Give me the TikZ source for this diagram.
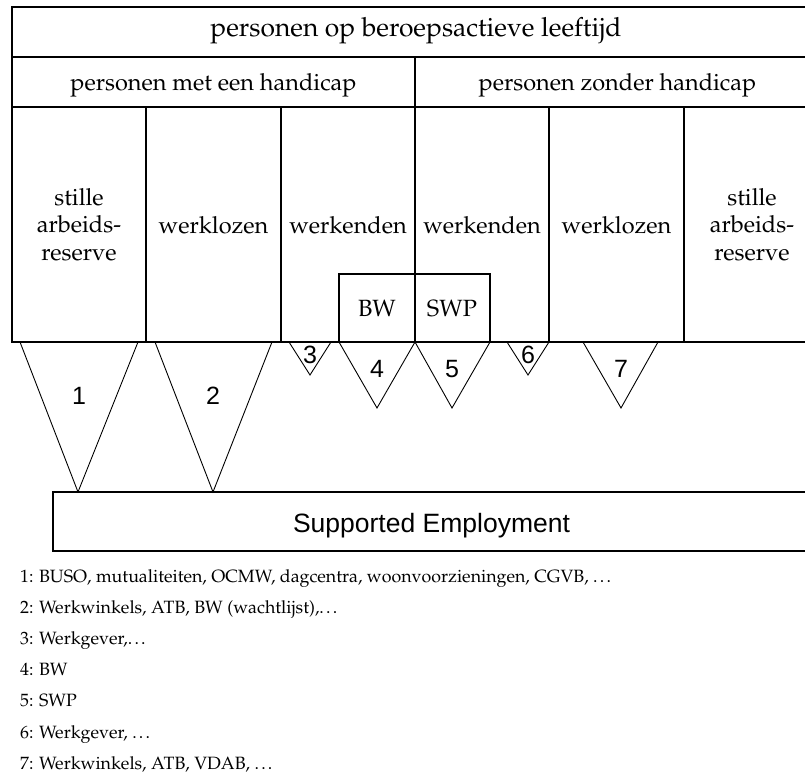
\documentclass[tikz,border=0pt]{standalone}
\usepackage[T1]{fontenc}
\usepackage{fontspec}
\newfontfamily\sansfnt{Liberation Sans}
\newcommand{\palfnt}{\fontencoding{T1}\fontfamily{ppl}\selectfont}
\newcommand{\elp}{.\kern.125em.\kern.125em.}
\begin{document}
\begin{tikzpicture}[x=1pt,y=-1pt,
  grid/.style={line width=1.6pt, line cap=rect},
  tri/.style={line width=0.9pt, line join=miter},
  titlef/.style={font=\palfnt\fontsize{26.4}{30}\selectfont, inner sep=0, anchor=base},
  hdr/.style={font=\palfnt\fontsize{23.5}{27.5}\selectfont, inner sep=0, anchor=base, align=center},
  num/.style={font=\sansfnt\fontsize{25}{28}\selectfont, inner sep=0, anchor=base},
  sef/.style={font=\sansfnt\fontsize{26.5}{30}\selectfont, inner sep=0, anchor=base},
  leg/.style={font=\palfnt\fontsize{17.8}{21}\selectfont, inner sep=0, anchor=base west}]
\useasboundingbox[fill=white] (0,0) rectangle (805,778);

% table
\draw[grid] (805,7) -- (12,7) -- (12,342) -- (805,342);
\draw[grid] (12,57) -- (805,57);
\draw[grid] (12,107) -- (805,107);
\draw[grid] (415,57) -- (415,342);
\foreach \xx in {146,281,549,684} \draw[grid] (\xx,107) -- (\xx,342);
\draw[grid] (339,342) -- (339,274) -- (490,274) -- (490,342);

% texts in table
\node[titlef] (title) at (416,37) {personen op beroepsactieve leeftijd};
\node[hdr] (met) at (213.5,91) {personen met een handicap};
\node[hdr] (zonder) at (617.5,91) {personen zonder handicap};
\node[hdr] (c1) at (79,260) {stille\\arbeids-\\reserve};
\node[hdr] (c2) at (213.5,233) {werklozen};
\node[hdr] (c3) at (348,233) {werkenden};
\node[hdr] (c4) at (482,233) {werkenden};
\node[hdr] (c5) at (616.5,233) {werklozen};
\node[hdr] (c6) at (752,260) {stille\\arbeids-\\reserve};
\node[hdr] (bw) at (377,316) {BW};
\node[hdr] (swp) at (452,316) {SWP};

% triangles
\draw[tri] (20,342) -- (78,492) -- (138,342);
\draw[tri] (155,342) -- (213,492) -- (272,342);
\draw[tri] (289,342) -- (310,375) -- (331,342);
\draw[tri] (339,342) -- (377,408) -- (415,342);
\draw[tri] (415,342) -- (452,408) -- (490,342);
\draw[tri] (507,342) -- (528,375) -- (549,342);
\draw[tri] (583,342) -- (621,408) -- (658,342);

\node[num] (n1) at (79,404) {1};
\node[num] (n2) at (213,404) {2};
\node[num] (n3) at (310,363) {3};
\node[num] (n4) at (377,377) {4};
\node[num] (n5) at (452,377) {5};
\node[num] (n6) at (528,363) {6};
\node[num] (n7) at (621,377) {7};

% supported employment box
\draw[grid] (805,492) -- (53,492) -- (53,551) -- (805,551);
\node[sef] (se) at (431.5,532) {Supported Employment};

% legend
\node[leg] (l1) at (20,582) {1: BUSO, mutualiteiten, OCMW, dagcentra, woonvoorzieningen, CGVB, \elp};
\node[leg] (l2) at (20,613.2) {2: Werkwinkels, ATB, BW (wachtlijst),\elp};
\node[leg] (l3) at (20,644.4) {3: Werkgever,\elp};
\node[leg] (l4) at (20,675.6) {4: BW};
\node[leg] (l5) at (20,706.8) {5: SWP};
\node[leg] (l6) at (20,738) {6: Werkgever, \elp};
\node[leg] (l7) at (20,769) {7: Werkwinkels, ATB, VDAB, \elp};
\end{tikzpicture}
\end{document}
